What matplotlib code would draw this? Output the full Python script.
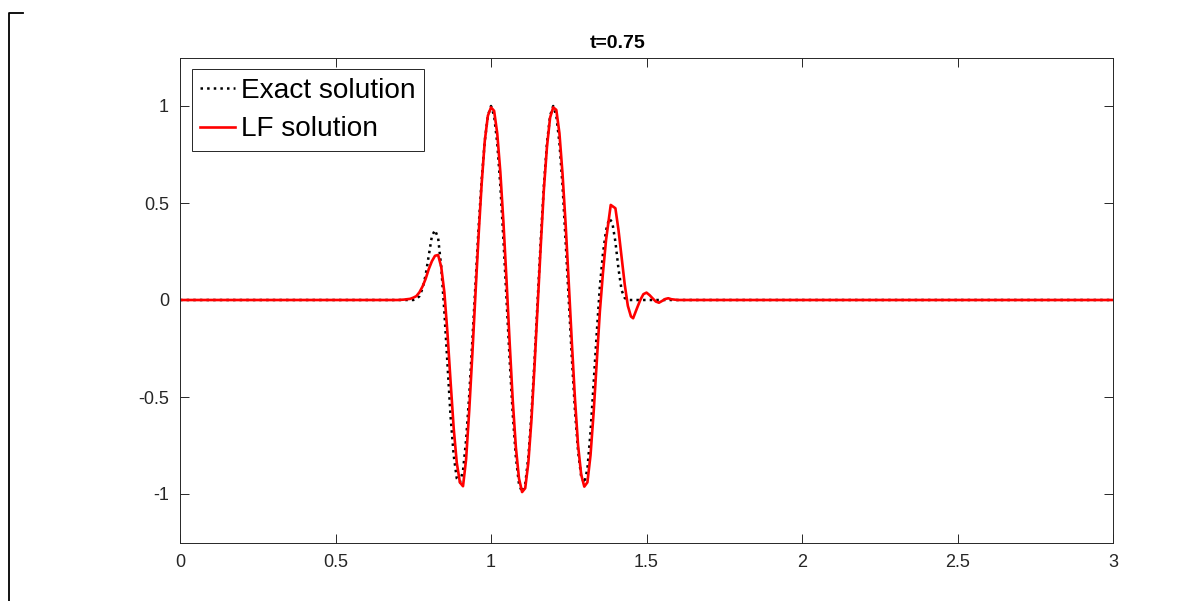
import matplotlib
matplotlib.use("Agg")
import matplotlib.pyplot as plt
from matplotlib.lines import Line2D
from matplotlib.ticker import FuncFormatter

plt.rcParams['font.family'] = ['Liberation Sans', 'DejaVu Sans']

# exact solution
x_exact = [0.0, 0.75, 0.76, 0.77, 0.78, 0.79, 0.80, 0.81, 0.82, 0.83, 0.84,
           0.85, 0.86, 0.87, 0.88, 0.89, 0.90, 0.91, 0.92, 0.93, 0.94,
           0.95, 0.96, 0.97, 0.98, 0.99, 1.00, 1.01, 1.02, 1.03, 1.04,
           1.05, 1.06, 1.07, 1.08, 1.09, 1.10, 1.11, 1.12, 1.13, 1.14,
           1.15, 1.16, 1.17, 1.18, 1.19, 1.20, 1.21, 1.22, 1.23, 1.24,
           1.25, 1.26, 1.27, 1.28, 1.29, 1.30, 1.31, 1.32, 1.33, 1.34,
           1.35, 1.36, 1.37, 1.38, 1.39, 1.40, 1.41, 1.42, 1.43, 1.44, 3.0]
u_exact = [0.0, 0.0, 0.005, 0.02, 0.06, 0.13, 0.23, 0.33, 0.36, 0.32, 0.17,
           -0.06, -0.33, -0.60, -0.80, -0.92, -0.94, -0.88, -0.72, -0.49, -0.21,
           0.08, 0.37, 0.62, 0.82, 0.95, 1.0, 0.95, 0.81, 0.59, 0.31,
           0.0, -0.31, -0.59, -0.81, -0.95, -0.99, -0.95, -0.81, -0.59, -0.31,
           0.0, 0.31, 0.59, 0.81, 0.95, 1.0, 0.95, 0.81, 0.59, 0.30,
           0.0, -0.30, -0.57, -0.78, -0.91, -0.945, -0.87, -0.68, -0.43, -0.17,
           0.07, 0.24, 0.36, 0.42, 0.40, 0.30, 0.16, 0.05, 0.01, 0.0, 0.0]

# LF solution
x_lf = [0.0, 0.70, 0.72, 0.74, 0.75, 0.76, 0.77, 0.78, 0.79, 0.80, 0.81,
        0.82, 0.83, 0.84, 0.85, 0.86, 0.87, 0.88, 0.89, 0.90, 0.91,
        0.92, 0.93, 0.94, 0.95, 0.96, 0.97, 0.98, 0.99, 1.00, 1.01,
        1.02, 1.03, 1.04, 1.05, 1.06, 1.07, 1.08, 1.09, 1.10, 1.11,
        1.12, 1.13, 1.14, 1.15, 1.16, 1.17, 1.18, 1.19, 1.20, 1.21,
        1.22, 1.23, 1.24, 1.25, 1.26, 1.27, 1.28, 1.29, 1.30, 1.31,
        1.32, 1.33, 1.34, 1.35, 1.36, 1.37, 1.385, 1.40, 1.41, 1.42,
        1.43, 1.44, 1.45, 1.457, 1.47, 1.48, 1.49, 1.50, 1.51, 1.52,
        1.53, 1.54, 1.55, 1.56, 1.57, 1.58, 1.60, 3.0]
u_lf = [0.0, 0.0, 0.002, 0.006, 0.012, 0.02, 0.04, 0.07, 0.11, 0.16, 0.20,
        0.228, 0.232, 0.17, 0.04, -0.17, -0.42, -0.66, -0.84, -0.94, -0.96,
        -0.82, -0.57, -0.28, 0.03, 0.33, 0.60, 0.82, 0.95, 0.993, 0.975,
        0.86, 0.66, 0.40, 0.10, -0.22, -0.52, -0.76, -0.92, -0.99, -0.97,
        -0.84, -0.62, -0.34, -0.03, 0.28, 0.57, 0.79, 0.94, 0.993, 0.98,
        0.86, 0.65, 0.39, 0.09, -0.22, -0.51, -0.75, -0.90, -0.962, -0.94,
        -0.80, -0.58, -0.32, -0.06, 0.14, 0.31, 0.49, 0.473, 0.36, 0.22,
        0.08, -0.03, -0.085, -0.094, -0.04, 0.0, 0.03, 0.038, 0.025, 0.008,
        -0.008, -0.014, -0.005, 0.005, 0.009, 0.004, 0.0, 0.0]

xticks = [0, 0.5, 1, 1.5, 2, 2.5, 3]
yticks = [-1, -0.5, 0, 0.5, 1]

fig = plt.figure(figsize=(12.04, 6.01), dpi=100)
ax = fig.add_axes([180/1204, 1 - 542.5/601, (1113 - 180)/1204, 485/601])

ax.plot(x_exact, u_exact, ':', color='black', lw=1.8, label='Exact solution')
ax.plot(x_lf, u_lf, '-', color='red', lw=1.9, label='LF solution')

ax.set_xlim(0, 3)
ax.set_ylim(-1.25, 1.25)
ax.set_xticks(xticks)
ax.set_yticks(yticks)
fmt = FuncFormatter(lambda v, p: ('%g' % v))
ax.xaxis.set_major_formatter(fmt)
ax.yaxis.set_major_formatter(fmt)
ax.tick_params(direction='in', length=6.5, width=0.7, colors='#262626',
               labelsize=13, top=True, right=True, pad=8)
for s in ax.spines.values():
    s.set_color('#262626')
    s.set_linewidth(0.7)

ax.set_title('t=0.75', fontsize=14, fontweight='bold', pad=7, x=0.469)

leg = ax.legend(loc='upper left', fontsize=20.2, handlelength=1.25,
                handletextpad=0.2, borderpad=0.3, labelspacing=0.45,
                borderaxespad=0.42, fancybox=False, framealpha=1)
leg.get_frame().set_edgecolor('#262626')
leg.get_frame().set_linewidth(0.7)

# bracket at the left edge
fig.add_artist(Line2D([9/1204, 9/1204, 23/1204], [0, 1 - 13/601, 1 - 13/601],
                      transform=fig.transFigure, color='black', lw=1.3))

fig.savefig('out.png', dpi=100)
